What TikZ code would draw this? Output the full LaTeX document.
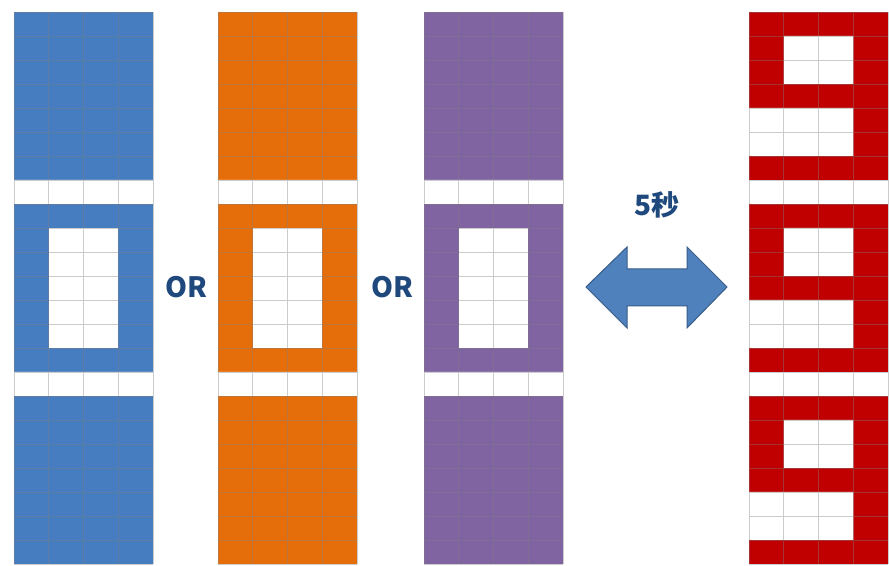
\documentclass[tikz,border=0pt]{standalone}
\usepackage{fontspec}
\newfontfamily\cjk{Noto Sans CJK SC}
\usepackage{tikz}

\definecolor{pillarblue}{RGB}{70,124,192}
\definecolor{pillarorange}{RGB}{230,110,10}
\definecolor{pillarpurple}{RGB}{128,100,162}
\definecolor{digitred}{RGB}{192,0,0}
\definecolor{arrowfill}{RGB}{79,129,189}
\definecolor{arrowedge}{RGB}{56,93,138}
\definecolor{labelblue}{RGB}{31,73,125}

\tikzset{
  cellgrid/.style={draw=gray,line width=0.8pt,opacity=0.4,xstep=34.75,ystep=24},
  label/.style={text=labelblue,font=\cjk\bfseries\fontsize{28}{30}\selectfont,inner sep=0pt}
}

\begin{document}
\begin{tikzpicture}[x=1pt,y=1pt]
    \useasboundingbox (0,0) rectangle (889,565);
        % blue pillar
        \fill[pillarblue] (14,1) rectangle (153,553);
        \fill[white] (14,361) rectangle (153,385) (14,169) rectangle (153,193);
        \fill[white] (48.75,217) rectangle (118.25,337);
        \draw[cellgrid,shift={(14,1)}] (0,0) grid (139,552);
        % orange pillar
        \fill[pillarorange] (218,1) rectangle (357,553);
        \fill[white] (218,361) rectangle (357,385) (218,169) rectangle (357,193);
        \fill[white] (252.75,217) rectangle (322.25,337);
        \draw[cellgrid,shift={(218,1)}] (0,0) grid (139,552);
        % purple pillar
        \fill[pillarpurple] (424,1) rectangle (563,553);
        \fill[white] (424,361) rectangle (563,385) (424,169) rectangle (563,193);
        \fill[white] (458.75,217) rectangle (528.25,337);
        \draw[cellgrid,shift={(424,1)}] (0,0) grid (139,552);
        % red pillar, three nines
        \fill[digitred] (749,385) rectangle (888,553);
        \fill[white] (783.75,481) rectangle (853.25,529) (749,409) rectangle (853.25,457);
        \fill[digitred] (749,193) rectangle (888,361);
        \fill[white] (783.75,289) rectangle (853.25,337) (749,217) rectangle (853.25,265);
        \fill[digitred] (749,1) rectangle (888,169);
        \fill[white] (783.75,97) rectangle (853.25,145) (749,25) rectangle (853.25,73);
        \draw[cellgrid,shift={(749,1)}] (0,0) grid (139,552);

        \node at (186,278) [label] (or1) {OR};
        \node at (392,278) [label] (or2) {OR};
        \node at (657,360) [label] (secs) {5秒};

        % double arrow
        \draw[fill=arrowfill,draw=arrowedge,line width=1pt,line join=miter]
          (586,278) -- (627,318) -- (627,296) -- (687,296) -- (687,318) -- (727,278)
          -- (687,237) -- (687,259) -- (627,259) -- (627,237) -- cycle;
    \end{tikzpicture}
\end{document}
